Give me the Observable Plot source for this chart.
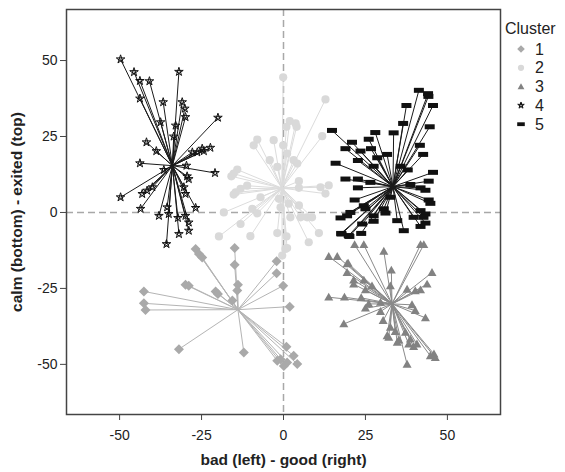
<!DOCTYPE html>
<html><head><meta charset="utf-8">
<script src="https://cdn.jsdelivr.net/npm/d3@7"></script>
<script src="https://cdn.jsdelivr.net/npm/@observablehq/plot@0.6"></script>
<style>
body{margin:0;background:#fff;font-family:"Liberation Sans",Arial,sans-serif}
#wrap{position:relative;width:565px;height:472px}
#legend{position:absolute;left:498px;top:0}
</style>
</head><body><div id="wrap"></div>
<script>
// ---- data ----
const clusters = ["1", "2", "3", "4", "5"];
const centerX = [-13.9, -0.5, 33.1, -33.9, 33.4];
const centerY = [-32.0, 8.0, -30.1, 15.4, 8.5];
const xTicks = [-50, -25, 0, 25, 50];
const yTicks = [-50, -25, 0, 25, 50];
const xLabel = "bad (left) - good (right)";
const yLabel = "calm (bottom) - exited (top)";
const legendTitle = "Cluster";

const cluster1 = [[-26.8,-12.0],[-25.8,-13.7],[-24.8,-14.8],[-14.9,-11.7],[-14.9,-17.2],[-29.9,-23.8],[-28.9,-24.1],[-20.7,-26.0],[-20.0,-26.8],[-13.9,-23.8],[-14.1,-25.7],[-15.6,-29.0],[-42.6,-26.0],[-42.6,-29.9],[-42.1,-32.1],[-2.1,-16.1],[-2.1,-20.0],[-0.1,-24.1],[1.9,-31.0],[-31.9,-45.0],[-12.1,-46.1],[0.9,-44.2],[-0.9,-48.3],[1.1,-49.4],[3.1,-47.2],[4.2,-49.9],[0.1,-50.5],[-1.9,-48.8]];
const cluster2 = [[-0.1,44.5],[12.8,37.2],[1.9,30.1],[3.7,29.3],[4.0,28.2],[0.9,28.2],[11.8,25.1],[-8.0,24.0],[-9.1,22.1],[-3.0,23.8],[-0.1,22.1],[1.1,19.4],[-4.2,17.2],[3.1,17.2],[4.2,16.1],[-1.9,15.0],[-14.1,14.1],[-15.2,12.8],[-15.9,11.9],[-11.1,8.8],[-13.1,7.8],[-14.6,6.6],[-15.2,5.9],[-7.0,5.0],[4.7,10.3],[4.7,8.1],[11.3,8.3],[13.8,8.9],[12.8,6.2],[-18.2,0.0],[-9.5,1.2],[-8.0,-0.3],[-1.4,4.5],[-0.9,1.7],[1.6,2.9],[4.7,2.3],[2.1,-1.6],[5.2,-1.6],[7.2,-1.6],[8.7,-1.6],[-13.1,-3.8],[-19.7,-7.9],[-10.1,-7.8],[-1.9,-6.8],[0.9,-7.9],[1.1,-11.7],[10.8,-6.8],[7.7,-9.8],[0.6,-12.0],[-0.4,-14.2]];
const cluster3 = [[21.7,-10.6],[24.5,-10.6],[30.6,-12.8],[41.8,-10.6],[42.8,-10.6],[13.8,-14.5],[16.4,-14.5],[19.7,-16.7],[19.4,-19.8],[32.9,-19.0],[45.3,-19.8],[21.4,-22.3],[24.5,-22.3],[21.4,-23.6],[27.0,-24.2],[25.0,-25.5],[32.6,-24.2],[37.7,-25.3],[43.8,-23.6],[41.8,-25.5],[40.2,-25.8],[13.8,-27.9],[18.6,-27.9],[23.7,-28.1],[26.0,-30.1],[29.6,-29.6],[39.2,-30.4],[40.2,-32.3],[43.3,-34.7],[18.4,-36.7],[29.6,-32.6],[30.4,-35.6],[32.6,-37.8],[32.1,-41.1],[35.2,-42.0],[38.2,-43.3],[39.7,-44.2],[34.1,-39.2],[37.2,-39.5],[38.7,-41.7],[44.8,-47.2],[46.3,-47.8],[45.9,-46.6],[37.7,-50.0],[40.7,-43.3],[31.6,-40.6],[34.7,-42.8],[25.0,-31.5],[19.4,-16.9]];
const cluster4 = [[-49.7,50.4],[-45.6,46.2],[-43.8,43.3],[-40.9,43.2],[-31.9,46.3],[-43.8,37.5],[-36.7,36.3],[-30.9,36.3],[-30.1,34.2],[-29.9,31.4],[-32.9,28.6],[-20.0,31.2],[-37.5,29.7],[-41.8,23.1],[-38.8,20.2],[-43.8,16.2],[-20.9,13.0],[-49.7,5.0],[-43.6,1.2],[-27.8,19.8],[-24.8,21.0],[-22.3,21.3],[-24.3,20.2],[-26.3,19.8],[-29.6,15.4],[-28.9,11.0],[-43.1,6.1],[-41.6,7.2],[-40.0,8.3],[-38.0,-1.1],[-35.5,1.7],[-35.0,-0.5],[-35.7,-10.4],[-31.9,-7.1],[-28.9,-6.0],[-28.9,-3.3],[-29.9,-1.1],[-26.8,1.5],[-29.9,6.1],[-30.4,8.3],[-29.4,11.9],[-32.2,-1.8],[-36.5,14.0],[-33.5,25.0]];
const cluster5 = [[41.3,40.2],[44.1,39.1],[44.2,38.2],[45.6,35.2],[37.5,35.2],[36.5,29.3],[44.6,28.2],[14.8,27.0],[28.0,26.3],[33.6,26.2],[20.9,23.1],[26.0,24.1],[18.9,21.0],[23.5,20.2],[26.7,21.0],[31.6,19.1],[41.6,22.1],[42.6,19.1],[22.7,17.1],[28.6,18.0],[15.9,16.2],[35.7,15.2],[37.9,14.0],[27.5,15.2],[18.9,11.0],[22.7,11.0],[26.5,9.9],[45.6,13.2],[44.3,10.3],[22.7,8.1],[38.7,9.2],[41.8,8.1],[43.3,7.3],[21.7,4.1],[32.6,5.0],[44.3,4.1],[44.8,3.0],[24.5,2.2],[25.0,1.2],[20.4,0.0],[19.4,-1.1],[17.4,-1.8],[30.6,1.2],[31.1,-0.2],[27.5,-1.1],[41.8,0.6],[43.3,-0.5],[42.7,-1.6],[39.7,-1.6],[41.8,-4.6],[43.3,-3.5],[34.7,-2.7],[27.5,-2.9],[24.0,-3.8],[36.7,-6.0],[17.6,-6.9],[19.9,-7.6],[23.7,-6.9],[17.7,-7.1],[20.1,-7.9]];
const clusterPoints = [cluster1, cluster2, cluster3, cluster4, cluster5];

// ---- styles ----
const dotFill = ["#a9a9a9", "#d9d9d9", "#828282", "none", "#111111"];
const dotStroke = ["none", "none", "none", "#111111", "none"];
const lineColor = ["#b4b4b4", "#dcdcdc", "#8a8a8a", "#1a1a1a", "#1a1a1a"];

// custom symbols (size = r*r*PI)
const rad = s => Math.sqrt(s / Math.PI);
const symDiamond = {draw(c, s){const r = rad(s); c.moveTo(0,-r); c.lineTo(r,0); c.lineTo(0,r); c.lineTo(-r,0); c.closePath();}};
const symCircle = {draw(c, s){const r = rad(s)*0.82; c.moveTo(r,0); c.arc(0,0,r,0,2*Math.PI); c.closePath();}};
const symTriangle = {draw(c, s){const r = rad(s)*0.9; c.moveTo(0,-r); c.lineTo(r,r*0.75); c.lineTo(-r,r*0.75); c.closePath();}};
const symStar = {draw(c, s){const r = rad(s)*0.9; for (let k=0;k<=5;k++){const a=(-90+144*k)*Math.PI/180; const x=r*Math.cos(a), y=r*Math.sin(a); if(k===0) c.moveTo(x,y); else c.lineTo(x,y);} }};
const symRect = {draw(c, s){const r = rad(s); c.rect(-r, -r*0.5, 2*r, r);}};
const symbols = [symDiamond, symCircle, symTriangle, symStar, symRect];

const rows = clusterPoints.map((pts, i) => pts.map(([x, y]) => ({cluster: clusters[i], x, y, cx: centerX[i], cy: centerY[i]})));

const marks = [
  Plot.ruleX([0], {stroke: "#a8a8a8", strokeWidth: 1.5, strokeDasharray: "7,4"}),
  Plot.ruleY([0], {stroke: "#a8a8a8", strokeWidth: 1.5, strokeDasharray: "7,4"})
];
rows.forEach((data, i) => {
  marks.push(Plot.link(data, {x1: "cx", y1: "cy", x2: "x", y2: "y", stroke: lineColor[i], strokeWidth: 1}));
});
rows.forEach((data, i) => {
  marks.push(Plot.dot(data, {x: "x", y: "y", r: 5, symbol: symbols[i], fill: dotFill[i], stroke: dotStroke[i], strokeWidth: 1}));
});
marks.push(
  Plot.frame({stroke: "#444", strokeWidth: 1.5}),
  Plot.axisX({ticks: xTicks, tickSize: 6, tickPadding: 10, tickFormat: d => String(d), label: null, fontSize: 14, stroke: "#444"}),
  Plot.axisY({ticks: yTicks, tickSize: 6, tickPadding: 3, tickFormat: d => String(d), label: null, fontSize: 14, stroke: "#444"}),
  Plot.text([xLabel], {frameAnchor: "bottom", dy: 50, text: d => d, fontWeight: "bold", fontSize: 15.5, fill: "#222"}),
  Plot.text([yLabel], {frameAnchor: "left", dx: -49, rotate: -90, textAnchor: "middle", text: d => d, fontWeight: "bold", fontSize: 15.5, fill: "#222"})
);

const chart = Plot.plot({
  width: 565, height: 472,
  marginLeft: 66, marginRight: 65, marginTop: 9, marginBottom: 58,
  style: {fontFamily: "'Liberation Sans', Arial, sans-serif", fontSize: "14px", color: "#222", background: "#fff"},
  x: {domain: [-66.2, 66.2]},
  y: {domain: [-66.5, 66.8]},
  marks
});
const wrap = document.getElementById("wrap");
wrap.appendChild(chart);

// ---- legend ----
const leg = d3.select(wrap).append("svg").attr("id", "legend").attr("width", 67).attr("height", 140)
  .style("font-family", "'Liberation Sans', Arial, sans-serif");
leg.append("text").attr("x", 7).attr("y", 34).attr("font-size", 16).attr("fill", "#222").text(legendTitle);
clusters.forEach((c, i) => {
  const yy = 49 + i * 18.8;
  leg.append("path").attr("transform", `translate(23,${yy})`)
    .attr("d", d3.symbol(symbols[i], 3.8 * 3.8 * Math.PI)())
    .attr("fill", dotFill[i]).attr("stroke", dotStroke[i]).attr("stroke-width", 1);
  leg.append("text").attr("x", 37).attr("y", yy + 5.5).attr("font-size", 16).attr("fill", "#222").text(c);
});
</script></body></html>
